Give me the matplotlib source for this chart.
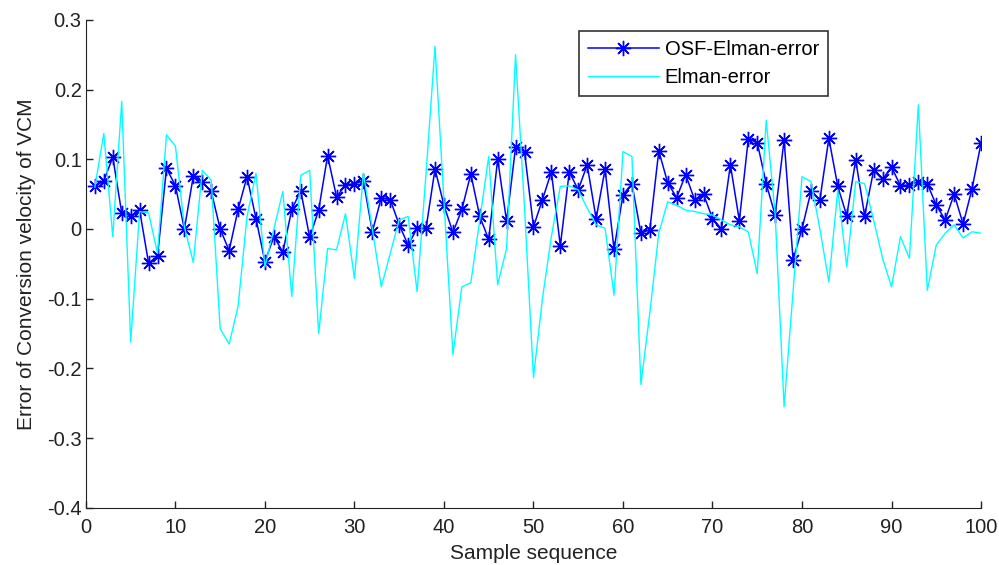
# error curves for the VCM conversion velocity
import numpy as np
import matplotlib
matplotlib.use('Agg')
import matplotlib.pyplot as plt

plt.rcParams['font.family'] = ['Liberation Sans', 'DejaVu Sans']
plt.rcParams['axes.unicode_minus'] = False

sample = np.arange(1, 101)

osf_elman_error = [
    0.061, 0.069, 0.103, 0.023, 0.019, 0.027, -0.049, -0.039, 0.087, 0.062,
    0.000, 0.076, 0.067, 0.054, 0.000, -0.031, 0.028, 0.075, 0.015, -0.047,
    -0.011, -0.033, 0.028, 0.055, -0.012, 0.027, 0.105, 0.046, 0.063, 0.065,
    0.069, -0.004, 0.045, 0.042, 0.006, -0.023, 0.001, 0.001, 0.086, 0.034,
    -0.005, 0.028, 0.079, 0.018, -0.015, 0.100, 0.011, 0.117, 0.111, 0.003,
    0.042, 0.082, -0.024, 0.082, 0.056, 0.092, 0.015, 0.086, -0.029, 0.049,
    0.065, -0.006, -0.001, 0.112, 0.066, 0.045, 0.078, 0.042, 0.050, 0.015,
    0.000, 0.092, 0.012, 0.129, 0.124, 0.065, 0.020, 0.128, -0.044, 0.000,
    0.054, 0.042, 0.130, 0.061, 0.019, 0.099, 0.019, 0.084, 0.071, 0.089,
    0.062, 0.063, 0.068, 0.065, 0.034, 0.013, 0.050, 0.007, 0.058, 0.123,
]

elman_error = [
    0.060, 0.137, -0.011, 0.183, -0.162, 0.025, 0.023, -0.035, 0.135, 0.119,
    0.003, -0.048, 0.084, 0.070, -0.143, -0.165, -0.111, 0.018, 0.080, -0.054,
    0.000, 0.054, -0.097, 0.077, 0.084, -0.150, -0.028, -0.030, 0.022, -0.071,
    0.080, 0.000, -0.083, -0.035, 0.013, 0.018, -0.090, 0.080, 0.262, 0.040,
    -0.180, -0.083, -0.077, 0.013, 0.104, -0.080, -0.028, 0.250, 0.030, -0.213,
    -0.100, -0.011, 0.061, 0.062, 0.056, 0.030, 0.006, 0.001, -0.095, 0.111,
    0.104, -0.223, -0.120, -0.006, 0.039, 0.034, 0.027, 0.025, 0.022, 0.020,
    0.013, 0.006, 0.003, -0.004, -0.064, 0.156, 0.022, -0.255, -0.090, 0.075,
    0.068, 0.000, -0.076, 0.056, -0.054, 0.068, 0.065, 0.013, -0.042, -0.083,
    -0.011, -0.042, 0.178, -0.088, -0.023, -0.006, 0.006, -0.013, -0.004, -0.006,
]

x_ticks = [0, 10, 20, 30, 40, 50, 60, 70, 80, 90, 100]
y_ticks = [-0.4, -0.3, -0.2, -0.1, 0, 0.1, 0.2, 0.3]
y_ticklabels = ['-0.4', '-0.3', '-0.2', '-0.1', '0', '0.1', '0.2', '0.3']

fig = plt.figure(figsize=(9.99, 5.65), dpi=100)
ax = fig.add_axes([0.086, 0.101, 0.896, 0.864])

ax.plot(sample, osf_elman_error, color='#0000ff', lw=1.1,
        marker=(8, 2, 0), markersize=11, markeredgewidth=1.0,
        label='OSF-Elman-error')
ax.plot(sample, elman_error, color='#00ffff', lw=1.0, label='Elman-error')

ax.set_xlim(0, 100)
ax.set_ylim(-0.4, 0.3)
ax.set_xticks(x_ticks)
ax.set_yticks(y_ticks)
ax.set_yticklabels(y_ticklabels)
ax.tick_params(direction='in', length=5, width=1, labelsize=14.5, colors='#222222')
ax.tick_params(axis='x', pad=7)
ax.tick_params(axis='y', pad=3)
ax.spines['top'].set_visible(False)
ax.spines['right'].set_visible(False)
for s in ['left', 'bottom']:
    ax.spines[s].set_color('#222222')

ax.set_xlabel('Sample sequence', fontsize=15, color='#222222', labelpad=5)
ax.set_ylabel('Error of Conversion velocity of VCM', fontsize=15, color='#222222', labelpad=8)

leg = ax.legend(loc='upper left', bbox_to_anchor=(0.551, 0.977), borderaxespad=0,
                fontsize=14.5, handlelength=3.5, fancybox=False, framealpha=1,
                borderpad=0.45, labelspacing=0.45, handletextpad=0.3)
leg.get_frame().set_edgecolor('#333333')
leg.get_frame().set_linewidth(1.2)

fig.savefig('out.png', dpi=100)
